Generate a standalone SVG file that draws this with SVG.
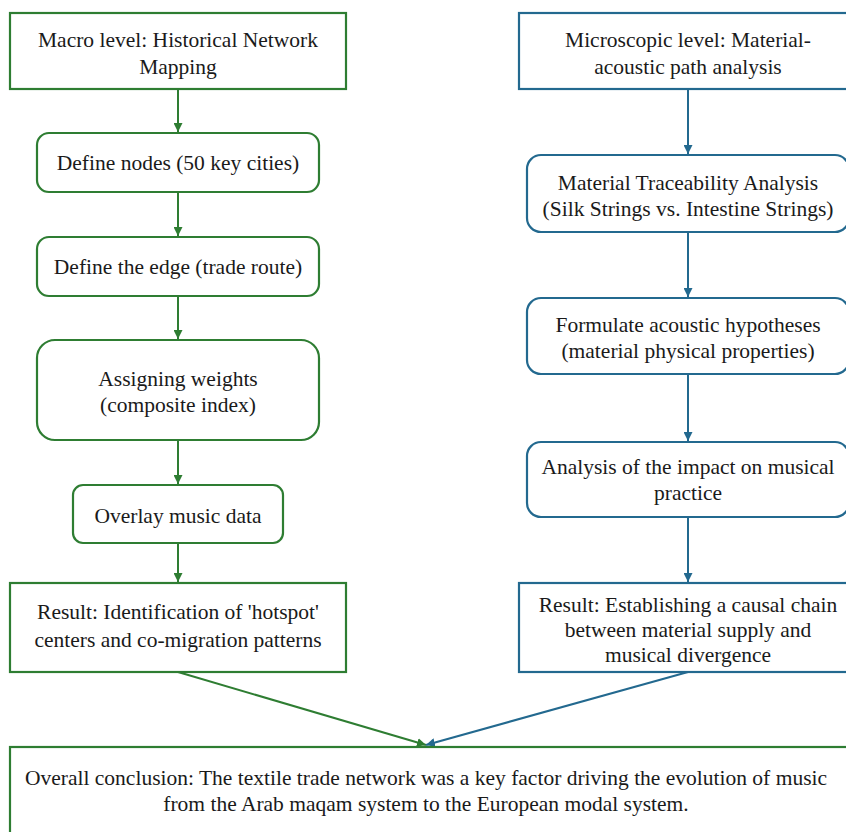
<svg xmlns="http://www.w3.org/2000/svg" width="846" height="832" viewBox="0 0 846 832" font-family="'Liberation Serif', 'Times New Roman', Times, serif">
<style>
.g{fill:#fff;stroke:#2e7d32;stroke-width:2.2}
.b{fill:#fff;stroke:#23698f;stroke-width:2.2}
.t{font-family:'Liberation Serif','Times New Roman',Times,serif;font-size:21.5px;fill:#1a1a1a;text-anchor:middle}
.cg{stroke:#2e7d32;stroke-width:2;fill:none}
.cb{stroke:#23698f;stroke-width:2;fill:none}
</style>
<defs>
<marker id="ag" viewBox="0 0 10 10" refX="10" refY="5" markerWidth="4.5" markerHeight="4.5" orient="auto" markerUnits="strokeWidth"><path d="M0,0 L10,5 L0,10 z" fill="#2e7d32"/></marker>
<marker id="ab" viewBox="0 0 10 10" refX="10" refY="5" markerWidth="4.5" markerHeight="4.5" orient="auto" markerUnits="strokeWidth"><path d="M0,0 L10,5 L0,10 z" fill="#23698f"/></marker>
</defs>
<rect width="846" height="832" fill="#fff"/>
<g id="connectors">
<line class="cg" x1="178" y1="89" x2="178" y2="132" marker-end="url(#ag)"/>
<line class="cg" x1="178" y1="192" x2="178" y2="236" marker-end="url(#ag)"/>
<line class="cg" x1="178" y1="296" x2="178" y2="339" marker-end="url(#ag)"/>
<line class="cg" x1="178" y1="440" x2="178" y2="484" marker-end="url(#ag)"/>
<line class="cg" x1="178" y1="543" x2="178" y2="582" marker-end="url(#ag)"/>
<line class="cb" x1="688" y1="89" x2="688" y2="154" marker-end="url(#ab)"/>
<line class="cb" x1="688" y1="232" x2="688" y2="297" marker-end="url(#ab)"/>
<line class="cb" x1="688" y1="374" x2="688" y2="441" marker-end="url(#ab)"/>
<line class="cb" x1="688" y1="517" x2="688" y2="582" marker-end="url(#ab)"/>
<line class="cg" x1="178" y1="672" x2="426" y2="745" marker-end="url(#ag)"/>
<line class="cb" x1="688" y1="672" x2="426" y2="745" marker-end="url(#ab)"/>
</g>
<g id="macro">
<rect class="g" x="10" y="13" width="336" height="76"/>
<text class="t" x="178" y="47">Macro level: Historical Network</text>
<text class="t" x="178" y="74">Mapping</text>
</g>
<g id="nodes">
<rect class="g" x="37" y="133" width="282" height="59" rx="12"/>
<text class="t" x="178" y="170">Define nodes (50 key cities)</text>
</g>
<g id="edge">
<rect class="g" x="37" y="237" width="282" height="59" rx="12"/>
<text class="t" x="178" y="274">Define the edge (trade route)</text>
</g>
<g id="weights">
<rect class="g" x="37" y="340" width="282" height="100" rx="18"/>
<text class="t" x="178" y="386">Assigning weights</text>
<text class="t" x="178" y="412">(composite index)</text>
</g>
<g id="overlay">
<rect class="g" x="73" y="485" width="210" height="58" rx="10"/>
<text class="t" x="178" y="523">Overlay music data</text>
</g>
<g id="result-left">
<rect class="g" x="10" y="583" width="336" height="89"/>
<text class="t" x="178" y="619">Result: Identification of 'hotspot'</text>
<text class="t" x="178" y="647">centers and co-migration patterns</text>
</g>
<g id="micro">
<rect class="b" x="519" y="13" width="338" height="76"/>
<text class="t" x="688" y="47">Microscopic level: Material-</text>
<text class="t" x="688" y="74">acoustic path analysis</text>
</g>
<g id="trace">
<rect class="b" x="527" y="155" width="322" height="77" rx="14"/>
<text class="t" x="688" y="190">Material Traceability Analysis</text>
<text class="t" x="688" y="216">(Silk Strings vs. Intestine Strings)</text>
</g>
<g id="hypo">
<rect class="b" x="527" y="298" width="322" height="76" rx="14"/>
<text class="t" x="688" y="332">Formulate acoustic hypotheses</text>
<text class="t" x="688" y="358">(material physical properties)</text>
</g>
<g id="impact">
<rect class="b" x="527" y="442" width="322" height="75" rx="14"/>
<text class="t" x="688" y="474">Analysis of the impact on musical</text>
<text class="t" x="688" y="500">practice</text>
</g>
<g id="result-right">
<rect class="b" x="519" y="583" width="338" height="89"/>
<text class="t" x="688" y="612">Result: Establishing a causal chain</text>
<text class="t" x="688" y="637">between material supply and</text>
<text class="t" x="688" y="662">musical divergence</text>
</g>
<g id="conclusion">
<rect class="g" x="10" y="747" width="850" height="100"/>
<text class="t" x="426" y="785">Overall conclusion: The textile trade network was a key factor driving the evolution of music</text>
<text class="t" x="426" y="811">from the Arab maqam system to the European modal system.</text>
</g>
</svg>
